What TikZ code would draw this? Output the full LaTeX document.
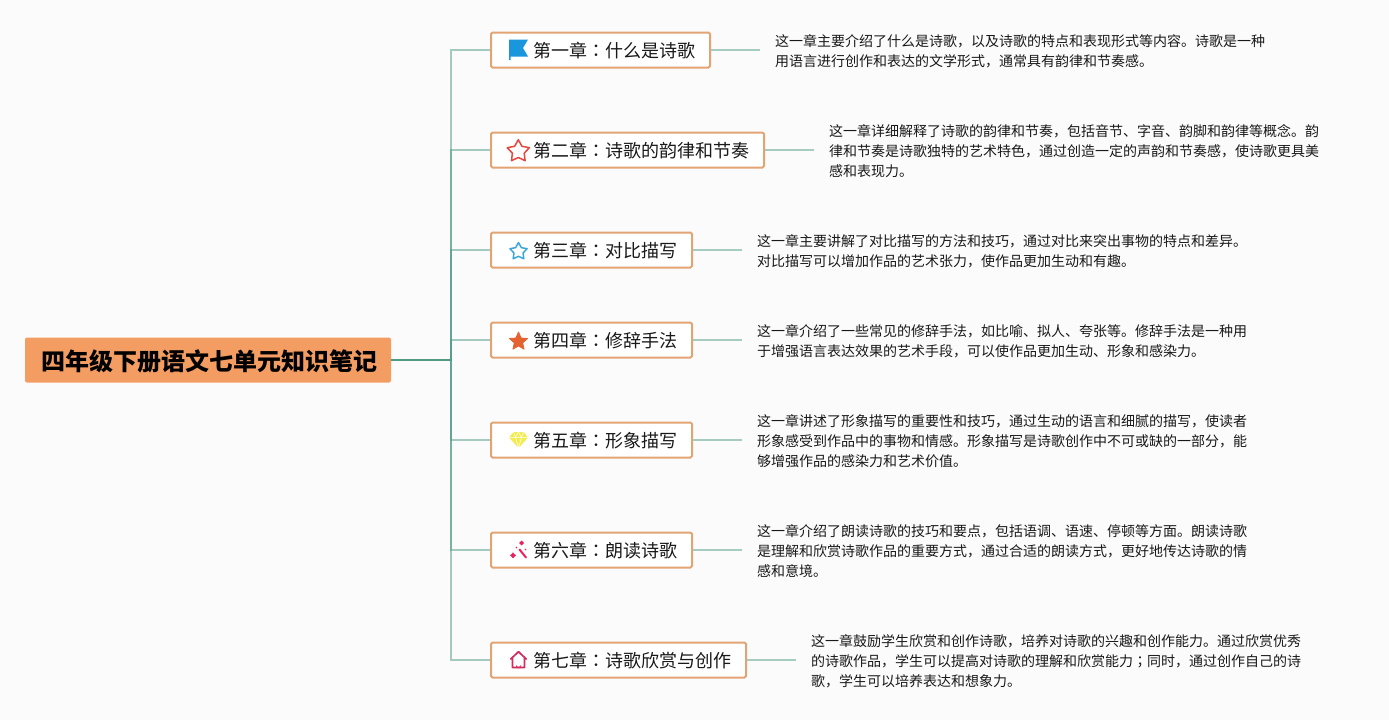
\documentclass[tikz,border=0pt]{standalone}
\usepackage{fontspec}
\setmainfont{Noto Sans CJK SC}
\newfontfamily\colonfont{Noto Sans CJK TC}

\definecolor{pagebg}{HTML}{FBFBFB}
\definecolor{rootfill}{HTML}{F49D63}
\definecolor{boxline}{HTML}{E3A474}
\definecolor{branchline}{HTML}{4F9A84}
\definecolor{noteline}{HTML}{A5CCBF}
\definecolor{flagblue}{HTML}{1A96DC}
\definecolor{starred}{HTML}{E5483C}
\definecolor{starblue}{HTML}{3BA6DC}
\definecolor{starorange}{HTML}{E4622F}
\definecolor{gemyellow}{HTML}{F3EC4E}
\definecolor{wandpink}{HTML}{E8245F}
\definecolor{homepink}{HTML}{D42C5C}

\tikzset{
    rootbox/.style={fill=rootfill,draw=none,rounded corners=2pt,minimum width=366pt,minimum height=45pt,inner sep=0pt,font=\fontsize{24pt}{28pt}\selectfont\bfseries,text=black},
    chapterbox/.style={fill=white,draw=boxline,line width=2pt,rounded corners=1.5pt,minimum height=35pt,inner sep=0pt,anchor=west,font=\fontsize{18pt}{22pt}\selectfont,text=black!90},
    notebox/.style={anchor=west,align=left,inner xsep=15pt,inner ysep=0pt,font=\fontsize{14pt}{20pt}\selectfont,text=black!90},
    branch/.style={draw=branchline,line width=2pt,draw opacity=.5},
    noteedge/.style={draw=noteline,line width=2pt}
}
\newcommand{\chaptitle}[2]{\hspace*{41pt}\raisebox{-7.8pt}[0pt][0pt]{#1{\colonfont ：}#2}\hfill\null}
\newcommand{\starpath}[2]{(-90:#1) -- (-54:#2) -- (-18:#1) -- (18:#2) -- (54:#1) -- (90:#2) -- (126:#1) -- (162:#2) -- (198:#1) -- (234:#2) -- cycle}

\begin{document}
\begin{tikzpicture}[x=1pt,y=-1pt]
    \useasboundingbox[fill=pagebg] (0,0) rectangle (1389,720);

    \node[rootbox] (root) at (208,360) {\raisebox{-10.2pt}[0pt][0pt]{\hspace*{2pt}四年级下册语文七单元知识笔记}};
    \coordinate (trunk) at (451,360);

    \node[chapterbox,minimum width=219pt] (ch1) at (490,50) {\makebox[217pt][l]{\chaptitle{第一章}{什么是诗歌}}};
    \node[chapterbox,minimum width=273pt] (ch2) at (490,150) {\makebox[271pt][l]{\chaptitle{第二章}{诗歌的韵律和节奏}}};
    \node[chapterbox,minimum width=201pt] (ch3) at (490,250) {\makebox[199pt][l]{\chaptitle{第三章}{对比描写}}};
    \node[chapterbox,minimum width=201pt] (ch4) at (490,340) {\makebox[199pt][l]{\chaptitle{第四章}{修辞手法}}};
    \node[chapterbox,minimum width=201pt] (ch5) at (490,440) {\makebox[199pt][l]{\chaptitle{第五章}{形象描写}}};
    \node[chapterbox,minimum width=201pt] (ch6) at (490,550) {\makebox[199pt][l]{\chaptitle{第六章}{朗读诗歌}}};
    \node[chapterbox,minimum width=255pt] (ch7) at (490,660) {\makebox[253pt][l]{\chaptitle{第七章}{诗歌欣赏与创作}}};

    \node[notebox] (note1) at (760,51.5) {这一章主要介绍了什么是诗歌，以及诗歌的特点和表现形式等内容。诗歌是一种\\用语言进行创作和表达的文学形式，通常具有韵律和节奏感。};
    \node[notebox] (note2) at (814,151.5) {这一章详细解释了诗歌的韵律和节奏，包括音节、字音、韵脚和韵律等概念。韵\\律和节奏是诗歌独特的艺术特色，通过创造一定的声韵和节奏感，使诗歌更具美\\感和表现力。};
    \node[notebox] (note3) at (742,251.5) {这一章主要讲解了对比描写的方法和技巧，通过对比来突出事物的特点和差异。\\对比描写可以增加作品的艺术张力，使作品更加生动和有趣。};
    \node[notebox] (note4) at (742,341.5) {这一章介绍了一些常见的修辞手法，如比喻、拟人、夸张等。修辞手法是一种用\\于增强语言表达效果的艺术手段，可以使作品更加生动、形象和感染力。};
    \node[notebox] (note5) at (742,441.5) {这一章讲述了形象描写的重要性和技巧，通过生动的语言和细腻的描写，使读者\\形象感受到作品中的事物和情感。形象描写是诗歌创作中不可或缺的一部分，能\\够增强作品的感染力和艺术价值。};
    \node[notebox] (note6) at (742,551.5) {这一章介绍了朗读诗歌的技巧和要点，包括语调、语速、停顿等方面。朗读诗歌\\是理解和欣赏诗歌作品的重要方式，通过合适的朗读方式，更好地传达诗歌的情\\感和意境。};
    \node[notebox] (note7) at (796,661.5) {这一章鼓励学生欣赏和创作诗歌，培养对诗歌的兴趣和创作能力。通过欣赏优秀\\的诗歌作品，学生可以提高对诗歌的理解和欣赏能力{\colonfont ；}同时，通过创作自己的诗\\歌，学生可以培养表达和想象力。};

    \foreach \n in {1,...,7} {
        \draw[branch] (root.east) -- (trunk) |- (ch\n.west);
        \draw[noteedge] (ch\n.east) -- (ch\n.east -| note\n.west);
    }

    % icons
    \fill[flagblue] (509,39.5) -- (528,39.5) -- (523,48) -- (528,56.5) -- (510.5,56.5) -- (510.5,60) -- (509,60) -- cycle;
    \draw[shift={(518.3,151.3)},starred,line width=1.5pt,line join=round] \starpath{11.6}{6.2};
    \draw[shift={(518.5,251.5)},starblue,line width=1.5pt,line join=round] \starpath{9}{4.8};
    \fill[shift={(518.5,341.5)},starorange,draw=starorange,line width=.8pt,line join=round] \starpath{9.5}{4.4};
    \fill[gemyellow] (513.5,432) -- (523.5,432) -- (528,437.5) -- (518.5,448) -- (509,437.5) -- cycle;
    \draw[white,line width=.5pt] (509,437.5) -- (528,437.5) (513.5,432) -- (515.5,437.5) -- (518.5,448) -- (521.5,437.5) -- (523.5,432) (515.5,437.5) -- (518.5,432) -- (521.5,437.5);
    \draw[wandpink,line width=2pt,line cap=round] (519.5,549.5) -- (526,557.5);
    \fill[wandpink] (521.7,540.5) -- (523,541.8) -- (524.2,543) -- (523,544.2) -- (521.7,545.5) -- (520.4,544.2) -- (519.2,543) -- (520.4,541.8) -- cycle;
    \fill[wandpink] (513,552.4) -- (514.4,554) -- (516,555.4) -- (514.4,556.8) -- (513,558.4) -- (511.6,556.8) -- (510,555.4) -- (511.6,554) -- cycle;
    \fill[wandpink] (516.5,547.5) circle (.9pt) (525.5,549.5) circle (.8pt);
    \draw[homepink,line width=1.7pt,line join=round,line cap=round] (510.8,659) -- (518.5,651.7) -- (526.2,659) (512.5,657.5) -- (512.5,667.5) -- (524.5,667.5) -- (524.5,657.5);
    \fill[homepink] (516,668) -- (516,664.5) arc (180:0:2.5) -- (521,668) -- cycle;
\end{tikzpicture}
\end{document}
